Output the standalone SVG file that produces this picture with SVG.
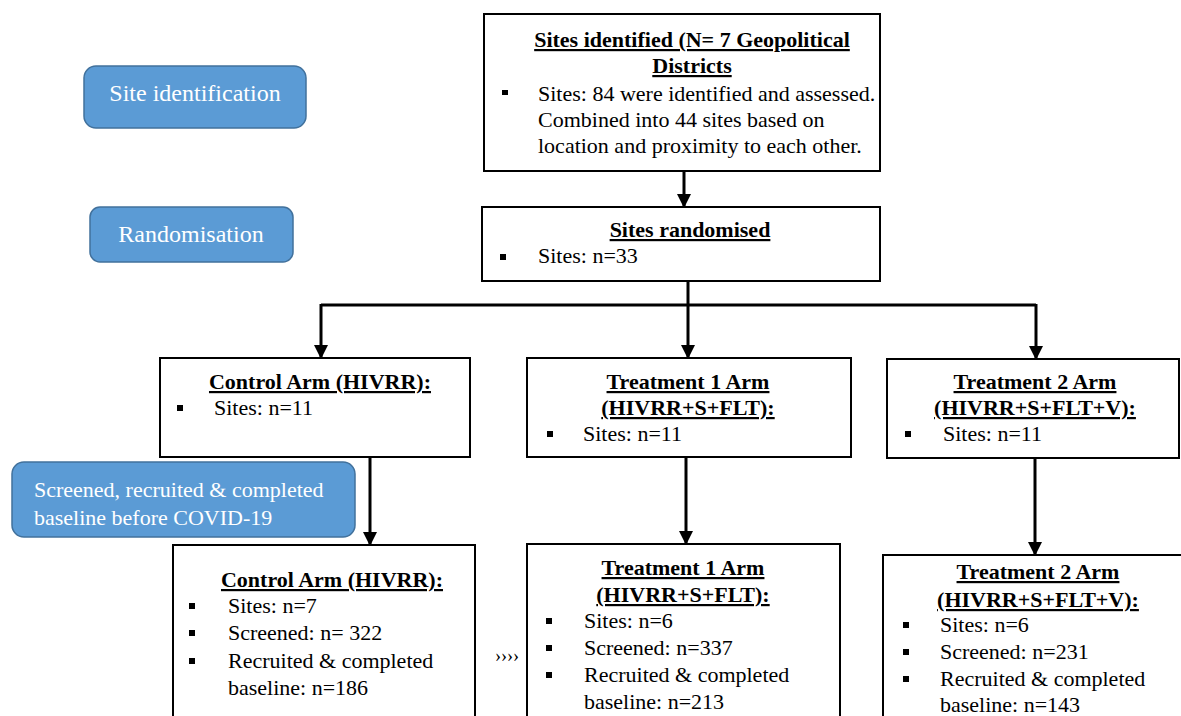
<svg xmlns="http://www.w3.org/2000/svg" width="1181" height="716" viewBox="0 0 1181 716">
<defs>
<marker id="ah" markerWidth="14" markerHeight="14" refX="12" refY="7" orient="auto" markerUnits="userSpaceOnUse" viewBox="0 0 14 14">
<path d="M0,0 L14,7 L0,14 Z" fill="#000"/>
</marker>
<style>
.box{fill:#fff;stroke:#000;stroke-width:2}
.pill{fill:#5B9BD5;stroke:#41719C;stroke-width:1.5}
.pt{font-family:"Liberation Serif","Times New Roman",serif;font-size:24px;fill:#fff}
.t{font-family:"Liberation Serif","Times New Roman",serif;font-size:22px;fill:#000}
.h{font-family:"Liberation Serif","Times New Roman",serif;font-size:22px;font-weight:bold;fill:#000;text-decoration:underline;text-anchor:middle}
.b{fill:#000}
.c{fill:none;stroke:#000;stroke-width:3}
</style>
</defs>
<rect width="1181" height="716" fill="#fff"/>

<g id="connectors">
<line class="c" x1="684" y1="171" x2="684" y2="206" marker-end="url(#ah)"/>
<line class="c" x1="688" y1="281" x2="688" y2="305"/>
<polyline class="c" points="321,305 1036,305"/>
<line class="c" x1="321" y1="304" x2="321" y2="357" marker-end="url(#ah)"/>
<line class="c" x1="688" y1="305" x2="688" y2="357" marker-end="url(#ah)"/>
<line class="c" x1="1036" y1="304" x2="1036" y2="358" marker-end="url(#ah)"/>
<line class="c" x1="370" y1="457" x2="370" y2="544" marker-end="url(#ah)"/>
<line class="c" x1="686" y1="457" x2="686" y2="543" marker-end="url(#ah)"/>
<line class="c" x1="1035" y1="459" x2="1035" y2="554" marker-end="url(#ah)"/>
</g>

<g id="site-identification">
<rect class="pill" x="84" y="66" width="222" height="62" rx="12"/>
<text class="pt" x="195" y="101" text-anchor="middle">Site identification</text>
</g>

<g id="randomisation">
<rect class="pill" x="90" y="207" width="203" height="55" rx="10"/>
<text class="pt" x="191" y="242" text-anchor="middle">Randomisation</text>
</g>

<g id="screened-label">
<rect class="pill" x="12" y="462" width="343" height="75" rx="12"/>
<text class="t" x="34" y="497" fill="#fff" style="fill:#fff">Screened, recruited &amp; completed</text>
<text class="t" x="34" y="525" style="fill:#fff">baseline before COVID-19</text>
</g>

<g id="sites-identified">
<rect class="box" x="484" y="14" width="396" height="157"/>
<text class="h" x="692" y="47">Sites identified (N= 7 Geopolitical</text>
<text class="h" x="692" y="73">Districts</text>
<rect class="b" x="502" y="90" width="6" height="5"/>
<text class="t" x="538" y="101">Sites: 84 were identified and assessed.</text>
<text class="t" x="538" y="127">Combined into 44 sites based on</text>
<text class="t" x="538" y="153">location and proximity to each other.</text>
</g>

<g id="sites-randomised">
<rect class="box" x="482" y="207" width="398" height="74"/>
<text class="h" x="690" y="237">Sites randomised</text>
<rect class="b" x="500" y="254" width="6" height="6"/>
<text class="t" x="538" y="263">Sites: n=33</text>
</g>

<g id="control-arm">
<rect class="box" x="160" y="358" width="310" height="99"/>
<text class="h" x="320" y="389">Control Arm (HIVRR):</text>
<rect class="b" x="177" y="405" width="6" height="6"/>
<text class="t" x="214" y="415">Sites: n=11</text>
</g>

<g id="treatment1-arm">
<rect class="box" x="527" y="358" width="324" height="99"/>
<text class="h" x="688" y="389">Treatment 1 Arm</text>
<text class="h" x="688" y="415">(HIVRR+S+FLT):</text>
<rect class="b" x="547" y="431" width="6" height="6"/>
<text class="t" x="583" y="441">Sites: n=11</text>
</g>

<g id="treatment2-arm">
<rect class="box" x="887" y="359" width="292" height="99"/>
<text class="h" x="1035" y="389">Treatment 2 Arm</text>
<text class="h" x="1035" y="415">(HIVRR+S+FLT+V):</text>
<rect class="b" x="905" y="431" width="6" height="6"/>
<text class="t" x="943" y="441">Sites: n=11</text>
</g>

<g id="control-baseline">
<rect class="box" x="173" y="545" width="302" height="180"/>
<text class="h" x="332" y="587">Control Arm (HIVRR):</text>
<rect class="b" x="189" y="603" width="6" height="6"/>
<text class="t" x="228" y="613">Sites: n=7</text>
<rect class="b" x="189" y="630" width="6" height="6"/>
<text class="t" x="228" y="640">Screened: n= 322</text>
<rect class="b" x="189" y="658" width="6" height="6"/>
<text class="t" x="228" y="668">Recruited &amp; completed</text>
<text class="t" x="228" y="695">baseline: n=186</text>
</g>

<g id="treatment1-baseline">
<rect class="box" x="527" y="544" width="313" height="180"/>
<text class="h" x="683" y="575">Treatment 1 Arm</text>
<text class="h" x="683" y="602">(HIVRR+S+FLT):</text>
<rect class="b" x="546" y="618" width="6" height="6"/>
<text class="t" x="584" y="628">Sites: n=6</text>
<rect class="b" x="546" y="645" width="6" height="6"/>
<text class="t" x="584" y="655">Screened: n=337</text>
<rect class="b" x="546" y="672" width="6" height="6"/>
<text class="t" x="584" y="682">Recruited &amp; completed</text>
<text class="t" x="584" y="709">baseline: n=213</text>
<text class="t" x="495" y="662" style="font-size:18px">››››</text>
</g>

<g id="treatment2-baseline">
<rect class="box" x="883" y="555" width="300" height="170"/>
<text class="h" x="1038" y="579">Treatment 2 Arm</text>
<text class="h" x="1038" y="607">(HIVRR+S+FLT+V):</text>
<rect class="b" x="903" y="622" width="6" height="6"/>
<text class="t" x="940" y="632">Sites: n=6</text>
<rect class="b" x="903" y="649" width="6" height="6"/>
<text class="t" x="940" y="659">Screened: n=231</text>
<rect class="b" x="903" y="676" width="6" height="6"/>
<text class="t" x="940" y="686">Recruited &amp; completed</text>
<text class="t" x="940" y="712">baseline: n=143</text>
</g>
</svg>
